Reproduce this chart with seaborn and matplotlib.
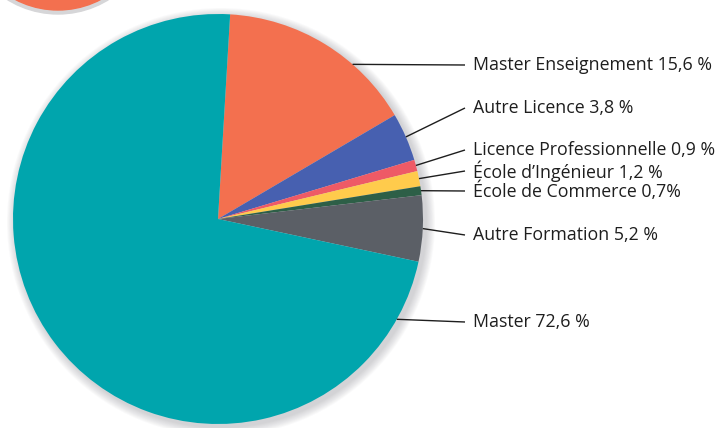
import numpy as np
import matplotlib
matplotlib.use("Agg")
import matplotlib.pyplot as plt
from matplotlib.patches import Circle
import seaborn as sns

# ---- data ----
categories = ["Master Enseignement", "Autre Licence", "Licence Professionnelle",
              "École d’Ingénieur", "École de Commerce", "Autre Formation", "Master"]
values = [15.6, 3.8, 0.9, 1.2, 0.7, 5.2, 72.6]
labels = ["Master Enseignement 15,6 %", "Autre Licence 3,8 %", "Licence Professionnelle 0,9 %",
          "École d’Ingénieur 1,2 %", "École de Commerce 0,7%", "Autre Formation 5,2 %", "Master 72,6 %"]
colors = ["#F3704F", "#4760B0", "#EE5A66", "#FFCB4C", "#2D5F47", "#5B5F66", "#00A5AD"]

# ---- layout ----
W, H = 720, 428
sns.set_theme(style="white")
plt.rcParams['font.family'] = ['Open Sans', 'DejaVu Sans']

fig = plt.figure(figsize=(W / 100, H / 100), dpi=100)
ax = fig.add_axes([0, 0, 1, 1])
ax.set_xlim(0, W)
ax.set_ylim(0, H)
ax.set_aspect("equal")
ax.axis("off")

def Y(py):
    return H - py

cx, cy, R = 218, Y(219), 205

# decorative circle top-left
ax.add_patch(Circle((58, Y(-82)), 96, color="#D6D6D8", zorder=1))
ax.add_patch(Circle((58, Y(-82)), 92, color="#F3704F", zorder=2))

# soft shadow
for k in range(10, 0, -1):
    ax.add_patch(Circle((cx + 3, cy - 3), R + k * 0.9, color="#7a7a85",
                        alpha=0.035, lw=0, zorder=3))

wedges, _ = ax.pie(values, colors=colors, startangle=86.6, counterclock=False,
                   radius=R, center=(cx, cy), frame=True,
                   wedgeprops=dict(linewidth=0, zorder=5))
ax.set_xlim(0, W)
ax.set_ylim(0, H)
ax.axis("off")

label_y = [65, 108, 150, 171, 191, 235, 322]
anchor_frac = [0.67, 0.5, 0.5, 0.5, 0.5, 0.5, 0.066]
line_end_x = 465
text_x = 473

for w, lab, ly, fr in zip(wedges, labels, label_y, anchor_frac):
    t1, t2 = w.theta1, w.theta2
    a = np.deg2rad(t2 - fr * (t2 - t1))
    ax0 = cx + R * np.cos(a)
    ay0 = cy + R * np.sin(a)
    ax.plot([ax0, line_end_x], [ay0, Y(ly)], color="#1e1e1e", lw=1.0,
            zorder=6, solid_capstyle="butt")
    ax.text(text_x, Y(ly), lab, fontsize=12.8, color="#1e1e1e",
            va="center", ha="left", zorder=7)

fig.savefig("out.png", dpi=100)
